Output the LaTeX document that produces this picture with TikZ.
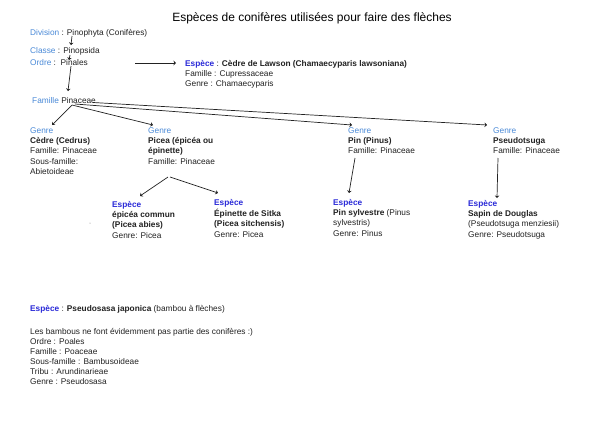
\documentclass[tikz,border=0pt]{standalone}
\usepackage{fontspec}
\setmainfont{Liberation Sans}
\usetikzlibrary{arrows.meta,calc}
\definecolor{lblue}{HTML}{4A8AD8}
\definecolor{espblue}{HTML}{2A2AD8}
\definecolor{txt}{HTML}{222222}
\newcommand{\lb}[1]{{\color{lblue}#1}}
\newcommand{\esp}{{\color{espblue}\bfseries Espèce}}
\begin{document}
\begin{tikzpicture}[x=1pt,y=-1pt,
  every node/.style={inner sep=0pt, text=txt},
  body/.style={font=\fontsize{8.3}{10.4}\selectfont},
  oneline/.style={anchor=base west, body},
  blk/.style={anchor=north west, align=left, body},
  arr/.style={draw=txt, line width=0.7pt, -{Stealth[length=2.5pt,width=4.5pt]}}]
\useasboundingbox[fill=white] (0,0) rectangle (600,424);

\node[font=\fontsize{12}{14}\selectfont, text=black] (title) at (312,18) {Espèces de conifères utilisées pour faire des flèches};

\node[oneline] (div) at (30,35) {\lb{Division} : Pinophyta (Conifères)};
\node[oneline] (cls) at (30,53) {\lb{Classe} : Pinopsida};
\node[oneline] (ord) at (30,65) {\lb{Ordre} :\ \ Pinales};
\node[oneline] (fam) at (32,103) {\lb{Famille} Pinaceae};

\node[blk] (law) at (185,58.6) {\strut\esp{} : \textbf{Cèdre de Lawson (Chamaecyparis lawsoniana)}\\Famille : Cupressaceae\\Genre : Chamaecyparis};

\node[blk] (ced) at (30,125.6) {\strut\lb{Genre}\\\textbf{Cèdre (Cedrus)}\\Famille: Pinaceae\\Sous-famille:\\Abietoideae};
\node[blk] (pic) at (148,125.6) {\strut\lb{Genre}\\\textbf{Picea (épicéa ou}\\\textbf{épinette)}\\Famille: Pinaceae};
\node[blk] (pin) at (348,125.6) {\strut\lb{Genre}\\\textbf{Pin (Pinus)}\\Famille: Pinaceae};
\node[blk] (pse) at (493,125.6) {\strut\lb{Genre}\\\textbf{Pseudotsuga}\\Famille: Pinaceae};

\node[blk] (epc) at (112,199.6) {\strut\esp\\\textbf{épicéa commun}\\\textbf{(Picea abies)}\\Genre: Picea};
\node[blk] (sit) at (214,197.6) {\strut\esp\\\textbf{Épinette de Sitka}\\\textbf{(Picea sitchensis)}\\Genre: Picea};
\node[blk] (syl) at (333,197.6) {\strut\esp\\\textbf{Pin sylvestre} (Pinus\\sylvestris)\\Genre: Pinus};
\node[blk] (dou) at (468,198.6) {\strut\esp\\\textbf{Sapin de Douglas}\\(Pseudotsuga menziesii)\\Genre: Pseudotsuga};

\fill[gray] (90,223) circle (0.5);

\node[oneline] (bsp) at (30,311) {\esp{} : \textbf{Pseudosasa japonica} (bambou à flèches)};
\node[blk, font=\fontsize{8.3}{9.9}\selectfont] (bam) at (30,327.6) {\strut Les bambous ne font évidemment pas partie des conifères :)\\Ordre : Poales\\Famille : Poaceae\\Sous-famille : Bambusoideae\\Tribu : Arundinarieae\\Genre : Pseudosasa};

% connectors
\draw[arr] ($(div.base west)+(42,1)$) -- ($(cls.base west)+(41,-8)$);
\draw[arr] ($(cls.base west)+(40,2)$) -- ($(ord.base west)+(39,-5)$);
\draw[arr] ($(ord.base west)+(41,1)$) -- ($(fam.base west)+(36,-12)$);
\draw[arr] ($(ord.base west)+(105,-2)$) -- ($(law.north west)+(-9,4.4)$);
\draw[arr] ($(fam.base west)+(40,2)$) -- ($(ced.north west)+(22,-0.6)$);
\draw[arr] ($(fam.base west)+(40,2)$) -- ($(pic.north west)+(5,-0.6)$);
\draw[arr] ($(fam.base west)+(43,1)$) -- ($(pin.north west)+(4,-0.6)$);
\draw[arr] ($(fam.base west)+(61,-0.5)$) -- ($(pse.north west)+(-6,-0.6)$);
\draw[arr] ($(pic.north west)+(20,51.4)$) -- ($(epc.north west)+(28,-3.6)$);
\draw[arr] ($(pic.north west)+(22,51.4)$) -- ($(sit.north west)+(4,-4.6)$);
\draw[arr] ($(pin.north west)+(7,32.4)$) -- ($(syl.north west)+(16,-4.6)$);
\draw[arr] ($(pse.north west)+(5,32.4)$) -- ($(dou.north west)+(29,-0.6)$);
\end{tikzpicture}
\end{document}
